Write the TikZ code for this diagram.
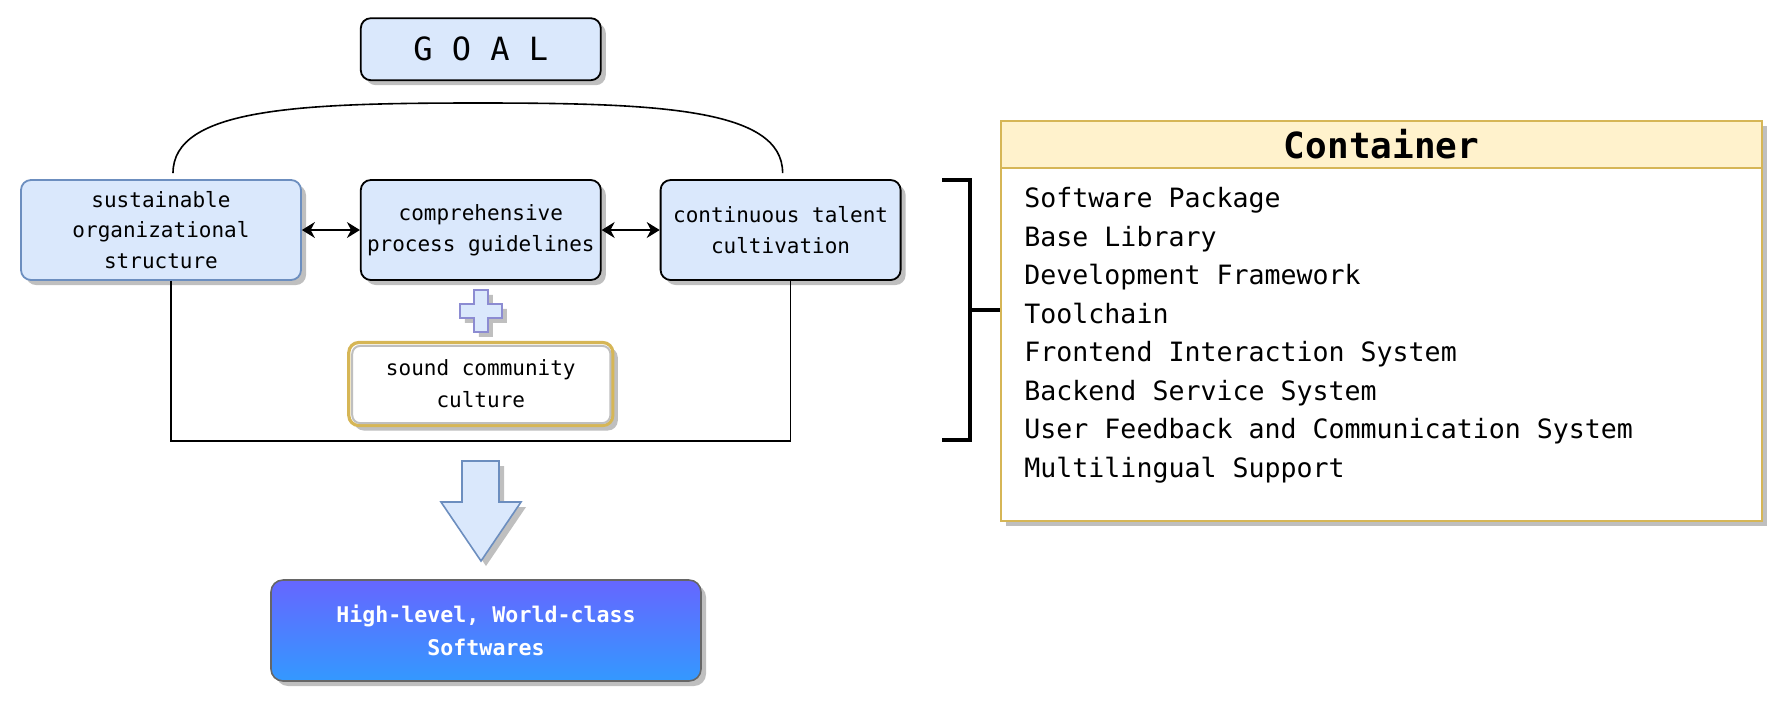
\documentclass[tikz,border=0pt]{standalone}
\usepackage{fontspec}
\setmonofont{DejaVu Sans Mono}
\usetikzlibrary{arrows.meta, positioning, calc, shadows}
\definecolor{boxFill}{HTML}{DAE8FC}
\definecolor{boxLine}{HTML}{6C8EBF}
\definecolor{goldLine}{HTML}{D6B656}
\definecolor{goldFill}{HTML}{FFF2CC}
\definecolor{plusLine}{HTML}{8C8CD2}
\definecolor{gradTop}{HTML}{6666FF}
\definecolor{gradBot}{HTML}{3399FF}
\definecolor{gradLine}{HTML}{666666}
\tikzset{
  shadowG/.style={drop shadow={shadow xshift=2.5pt, shadow yshift=-2.5pt,
                  fill=black!25, opacity=1}},
  boxBlue/.style={rectangle, rounded corners=5pt, draw=black, fill=boxFill,
                  line width=0.9pt, align=center, shadowG, inner sep=2pt,
                  font=\ttfamily\fontsize{10.5}{15.4}\selectfont,
                  minimum width=120pt, minimum height=50pt},
  boxGold/.style={rectangle, rounded corners=5pt, draw=goldLine, fill=white,
                  line width=1.6pt, align=center, shadowG,
                  font=\ttfamily\fontsize{10.5}{16}\selectfont,
                  minimum width=132pt, minimum height=41.5pt},
  boxGrad/.style={rectangle, rounded corners=6pt, draw=gradLine, line width=0.8pt,
                  top color=gradTop, bottom color=gradBot, text=white,
                  align=center, shadowG,
                  font=\ttfamily\bfseries\fontsize{10.8}{16.5}\selectfont,
                  minimum width=215pt, minimum height=50.5pt},
  arrowK/.style={{Stealth[length=6.5pt, width=8pt]}-{Stealth[length=6.5pt, width=8pt]},
                 black, line width=0.6pt},
  lineK/.style={black, line width=0.8pt},
  bracketK/.style={black, line width=1.6pt},
}
\begin{document}
\begin{tikzpicture}[x=0.5pt, y=-0.5pt, node distance=30pt]
  \useasboundingbox (0,0) rectangle (1788,720);

  % three pillars
  \node[boxBlue, draw=boxLine, minimum width=140pt] (org) at (161,230)
    {sustainable\\organizational\\structure};
  \node[boxBlue, right=29pt of org] (proc)
    {comprehensive\\process guidelines};
  \node[boxBlue, right=29pt of proc] (talent)
    {continuous talent\\cultivation};
  \draw[arrowK] (org) -- (proc);
  \draw[arrowK] (proc) -- (talent);

  % goal
  \node[boxBlue, above=49pt of proc, minimum height=31pt,
        font=\ttfamily\fontsize{16}{18}\selectfont] (goal) {G O A L};
  \coordinate (arcL) at ([xshift=6pt, yshift=3pt]org.north);
  \coordinate (arcR) at ([xshift=1pt, yshift=3pt]talent.north);
  \coordinate (arcTop) at (478,103);
  \draw[lineK] (arcL) .. controls (173,108) and (300,103) .. (arcTop)
    .. controls (656,103) and (783,108) .. (arcR);

  % culture and plus
  \node[boxGold, below=30pt of proc] (culture) {sound community\\culture};
  \draw[black!25, line width=1pt, rounded corners=4pt]
    ([shift={(2.5pt,-2.5pt)}]culture.north west) rectangle
    ([shift={(-2pt,2pt)}]culture.south east);
  \coordinate (plusC) at ($(proc.south)!0.5!(culture.north)$);
  \begin{scope}[shift={(plusC)}]
    \draw[plusLine, fill=boxFill, line width=0.8pt, shadowG]
      (-7,-21) -- (7,-21) -- (7,-7) -- (21,-7) -- (21,7) -- (7,7) -- (7,21)
      -- (-7,21) -- (-7,7) -- (-21,7) -- (-21,-7) -- (-7,-7) -- cycle;
  \end{scope}

  % frame round the pillars
  \path ([xshift=5pt]talent.south) ++(0,160) coordinate (frameBot);
  \draw[lineK] ([xshift=5pt]org.south) |- (frameBot) -- ([xshift=5pt]talent.south);

  % result
  \draw[boxLine, fill=boxFill, line width=0.8pt, shadowG]
    (462,461) -- (499,461) -- (499,502) -- (521,502) -- (481,561)
    -- (441,502) -- (462,502) -- cycle;
  \node[boxGrad] (result) at (486,630.5) {High-level, World-class\\Softwares};

  % container
  \node[rectangle, draw=goldLine, fill=white, line width=0.8pt, shadowG,
        minimum width=380.5pt, minimum height=200pt] (cont) at (1381.5,321) {};
  \node[rectangle, draw=goldLine, fill=goldFill, line width=0.8pt,
        anchor=north, minimum width=380.5pt, minimum height=23.5pt,
        font=\ttfamily\bfseries\fontsize{18}{20}\selectfont] (contHead)
        at (cont.north) {Container};
  \node[anchor=west, align=left, inner sep=0pt,
        font=\ttfamily\fontsize{13.3}{19.25}\selectfont] (items) at (1024,335)
    {Software Package\\Base Library\\Development Framework\\Toolchain\\
     Frontend Interaction System\\Backend Service System\\
     User Feedback and Communication System\\Multilingual Support};

  % bracket
  \coordinate (brTop) at (942,180);
  \coordinate (brBot) at (942,440);
  \coordinate (brMid) at (970,310);
  \draw[bracketK] (brTop) -| (brMid) |- (brBot);
  \draw[bracketK] (brMid) -- (brMid -| cont.west);
\end{tikzpicture}
\end{document}
